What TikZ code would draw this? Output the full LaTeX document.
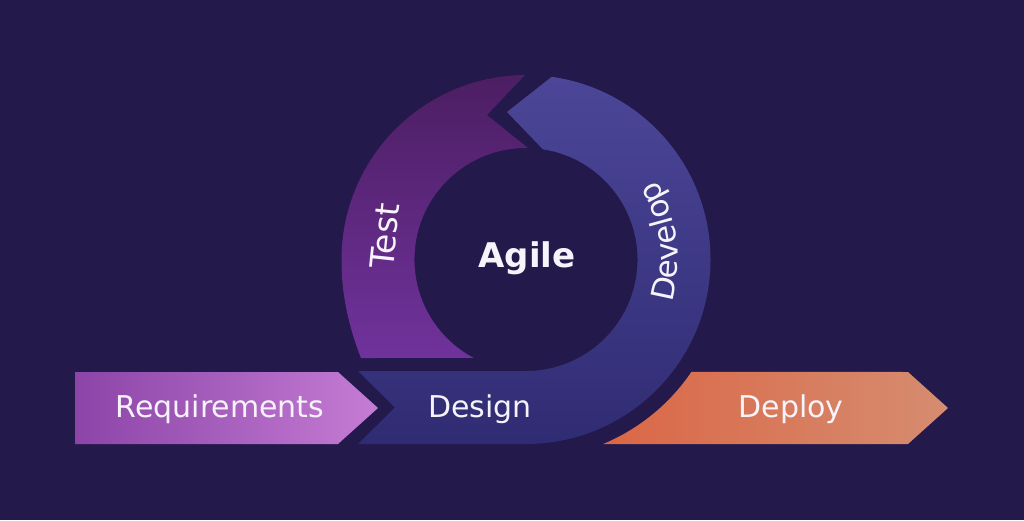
\documentclass[tikz,border=0pt]{standalone}
\usepackage{fontspec}
\setmainfont{DejaVu Sans}
\usetikzlibrary{decorations.text,calc}
\definecolor{bg}{RGB}{35,25,75}
\definecolor{reqL}{RGB}{140,68,168}
\definecolor{reqR}{RGB}{196,124,212}
\definecolor{depL}{RGB}{218,103,70}
\definecolor{depR}{RGB}{214,140,112}
\definecolor{devT}{RGB}{76,70,152}
\definecolor{devB}{RGB}{48,44,115}
\definecolor{testT}{RGB}{76,30,98}
\definecolor{testB}{RGB}{112,50,156}
\definecolor{txt}{RGB}{246,244,250}
\begin{document}
\begin{tikzpicture}[x=1pt,y=1pt,
  lbl/.style={text=txt, font=\fontsize{30}{36}\selectfont, inner sep=0pt, anchor=base}]
\useasboundingbox (0,0) rectangle (1024,520);
\fill[bg] (0,0) rectangle (1024,520);
\coordinate (C) at (526,260.5);
% Requirements arrow
\shade[left color=reqL, right color=reqR]
  (75,148) -- (338,148) -- (378,112) -- (338,76) -- (75,76) -- cycle;
% Deploy arrow
\shade[left color=depL, right color=depR]
  (603.2,76) arc[start angle=-67.3, end angle=-34.2, radius=200pt]
  -- (908,148) -- (948,112) -- (908,76) -- cycle;
% Design / Develop band
\shade[top color=devT, bottom color=devB]
  (358,76) -- (526,76) arc[start angle=270, end angle=442, radius=184.5pt]
  -- (507,408) -- (542.9,370.7)
  arc[start angle=81.3, end angle=-90, radius=111.5pt]
  -- (358,149) -- (395,112.5) -- cycle;
% Test arc
\shade[top color=testT, bottom color=testB]
  (361,162) .. controls (348,195) and (341.5,228) .. (341.53,257.28)
  arc[start angle=181, end angle=90.3, radius=184.5pt]
  -- (487,405) -- (527.9,372)
  arc[start angle=89, end angle=242.06, radius=111.5pt] -- cycle;
% labels
\node[lbl] (req) at (220,103) {Requirements};
\node[lbl] (design) at (480,103) {Design};
\node[lbl] (deploy) at (791,103) {Deploy};
\node[text=txt, font=\bfseries\fontsize{34}{40}\selectfont, inner sep=0pt, anchor=base] (agile) at (527,253) {Agile};
\node[text=txt, font=\fontsize{33}{40}\selectfont, inner sep=0pt, rotate=84] (test) at (385,284) {Test};
\path[decorate, decoration={text along path, text align=center,
   text={|\color{txt}\fontsize{31}{40}\selectfont|Develop}}]
  ($(C)+(-32.5:152pt)$) arc[start angle=-32.5, end angle=47.5, radius=152pt];
\end{tikzpicture}
\end{document}
